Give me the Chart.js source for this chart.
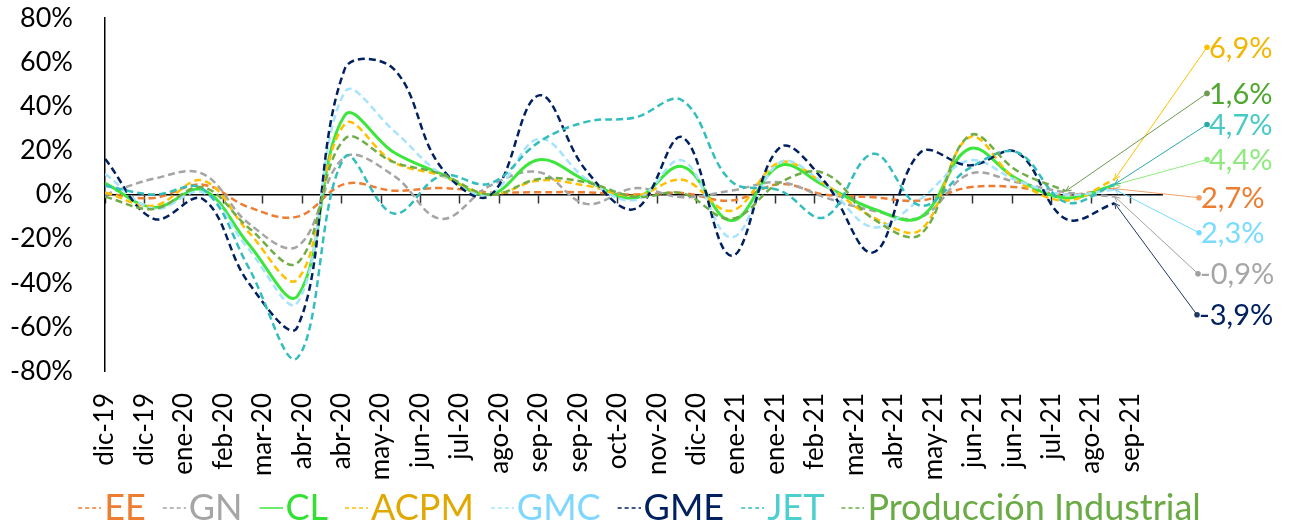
<!DOCTYPE html>
<html><head><meta charset="utf-8">
<script src="https://cdn.jsdelivr.net/npm/chart.js@4.4.1/dist/chart.umd.min.js"></script>
<style>html,body{margin:0;padding:0;background:#fff;}</style>
</head><body>
<canvas id="c" width="1292" height="527"></canvas>
<script>
// ---- data ----
const months = ['2019-12','2020-01','2020-02','2020-03','2020-04','2020-05','2020-06','2020-07','2020-08','2020-09','2020-10','2020-11','2020-12','2021-01','2021-02','2021-03','2021-04','2021-05','2021-06','2021-07','2021-08','2021-09'];
const axisEndMonth = '2021-10';
const tickLabels = ['dic-19','dic-19','ene-20','feb-20','mar-20','abr-20','abr-20','may-20','jun-20','jul-20','ago-20','sep-20','sep-20','oct-20','nov-20','dic-20','ene-21','ene-21','feb-21','mar-21','abr-21','may-21','jun-21','jun-21','jul-21','ago-21','sep-21'];
const tickStepDays = 25;
const seriesNames = ['EE','GN','CL','ACPM','GMC','GME','JET','Producción Industrial'];
const EE   = [0.5,-1.5,4.5,-5.7,-10,4.8,1.8,3,1,1.1,1,0,0.7,-2.7,4.8,0,-1.2,-2.7,3.3,3.3,0,2.7];
const GN   = [0,7.2,9.4,-13,-23.5,17,8.6,-11,4,10.2,-4.2,2.9,-1.2,1.8,5.6,-1.2,-7.3,-10.3,9.4,5.6,1,-0.9];
const CL   = [5.2,-5.8,2.1,-22.4,-46,36,19.2,9.4,0,15.8,6.4,-1.5,12.7,-11.8,13.2,4.1,-6.5,-10.3,20.8,7.1,-1.5,4.4];
const ACPM = [1,-5,6.4,-17,-38.5,32,14.7,8.6,0,6.4,4.1,-0.5,6.7,-7.3,14.7,4.8,-10.3,-16,26,6.4,-2.7,6.9];
const GMC  = [9.4,-6.4,1,-24.7,-49,46.5,29,9.4,0.3,25.3,7.2,-2.5,15.5,-19.4,14.7,4.8,-14.8,-2,15.5,6.4,0,2.3];
const GME  = [16.2,-11,-2,-40,-60,57,57,12.4,-0.5,45,10.9,-6.5,26,-27.7,21.5,6,-26.2,19.2,13.2,19.2,-11,-3.9];
const JET  = [4,0,2.6,-33,-74,17,-8.6,8.6,5,23.8,33,35,42.7,6,1.8,-10.3,18.5,-5,12,19.2,-3.5,4.7];
const PI   = [-1,-6.5,3.3,-15,-31,25.3,14.7,9.4,0,7.1,5.6,-1,0.6,-11,5.6,9.7,-11,-18,26.8,10.9,1.6];
const endLabels = ['2,7%','-0,9%','4,4%','6,9%','2,3%','-3,9%','4,7%','1,6%'];

// ---- styles ----
const lineColors   = ['#ED7D31','#A5A5A5','#3CE63C','#FFC000','#A6E3FF','#002060','#33BDBD','#70AD47'];
const legendColors = ['#ED7D31','#A5A5A5','#33E033','#E0A800','#7FD6FF','#002060','#4DCFCF','#6AAB45'];
const dashed       = [true,true,false,true,true,true,true,true];
const labelStyle = [ // label anchor y (axis units), dot offset from plot right, text colour, leader colour
  {y:-1.4, dx:37, text:'#ED7D31', line:'#F4A26A'},
  {y:-35.9, dx:36, text:'#A6A6A6', line:'#A0A0A0'},
  {y:15.9, dx:45, text:'#8EEA7C', line:'#8CEB7C'},
  {y:66.8, dx:45, text:'#F2B705', line:'#FFC000'},
  {y:-17.3, dx:37, text:'#79DBFF', line:'#79DBFF'},
  {y:-54.5, dx:35, text:'#002060', line:'#203864'},
  {y:31.8, dx:45, text:'#47C9C6', line:'#2AA8A8'},
  {y:45.9, dx:45, text:'#4EA72E', line:'#6E9A4E'}
];
const FONT = 'Lato, "Open Sans", sans-serif';
const LEGEND_SIZE = 36;

const dayOf = m => { const [y, mo] = m.split('-').map(Number); return (Date.UTC(y, mo - 1, 1) - Date.UTC(2019, 11, 1)) / 86400000; };
const axisMax = dayOf(axisEndMonth);
const allSeries = [EE, GN, CL, ACPM, GMC, GME, JET, PI];

// legend key: dashed line image, placed so that it ends just before the text
const BOXW = 25;
function legendSymbol(color, isDashed) {
  const c = document.createElement('canvas');
  const textStart = BOXW + LEGEND_SIZE / 2;
  const lineEnd = textStart - 3, lineStart = lineEnd - 23;
  const half = lineEnd - BOXW / 2;
  c.width = Math.round(half * 2); c.height = 4;
  const g = c.getContext('2d');
  const off = BOXW / 2 - half;
  g.strokeStyle = color; g.lineWidth = 1.5;
  g.setLineDash(isDashed ? [4, 3] : []);
  g.beginPath(); g.moveTo(lineStart - off, 2); g.lineTo(lineEnd - off, 2); g.stroke();
  return c;
}
const symbols = lineColors.map((c, i) => legendSymbol(c, dashed[i]));

const datasets = allSeries.map((vals, i) => ({
  label: seriesNames[i],
  data: vals.map((v, k) => ({x: dayOf(months[k]), y: v})),
  borderColor: lineColors[i],
  backgroundColor: lineColors[i],
  borderWidth: dashed[i] ? 2.5 : 3,
  borderDash: dashed[i] ? [7, 4] : [],
  pointRadius: 0,
  tension: 0.38,
  fill: false,
  order: allSeries.length - i,
  xAxisID: 'x', yAxisID: 'y'
}));

const setTicks = s => { s.ticks = tickLabels.map((_, i) => ({value: i * tickStepDays})); };

const endLabelPlugin = {
  id: 'endLabels',
  afterDatasetsDraw(chart) {
    const ctx = chart.ctx, area = chart.chartArea, ys = chart.scales.y;
    ctx.save();
    allSeries.forEach((vals, i) => {
      const meta = chart.getDatasetMeta(i);
      const pt = meta.data[meta.data.length - 1];
      const st = labelStyle[i];
      const lx = area.right + st.dx, ly = ys.getPixelForValue(st.y);
      ctx.strokeStyle = st.line; ctx.fillStyle = st.line; ctx.lineWidth = 1; ctx.setLineDash([]);
      ctx.beginPath(); ctx.moveTo(lx, ly); ctx.lineTo(pt.x, pt.y); ctx.stroke();
      const ang = Math.atan2(ly - pt.y, lx - pt.x);
      ctx.beginPath();
      ctx.moveTo(pt.x + 6 * Math.cos(ang - 0.45), pt.y + 6 * Math.sin(ang - 0.45));
      ctx.lineTo(pt.x, pt.y);
      ctx.lineTo(pt.x + 6 * Math.cos(ang + 0.45), pt.y + 6 * Math.sin(ang + 0.45));
      ctx.stroke();
      ctx.beginPath(); ctx.arc(lx, ly, 2.8, 0, Math.PI * 2); ctx.fill();
      ctx.fillStyle = st.text;
      ctx.font = '29px ' + FONT;
      ctx.textAlign = 'left'; ctx.textBaseline = 'middle';
      ctx.fillText(endLabels[i], lx + 2, ly + 1);
    });
    ctx.restore();
  }
};

new Chart(document.getElementById('c'), {
  type: 'line',
  data: {datasets},
  options: {
    responsive: false, animation: false, devicePixelRatio: 1,
    layout: {padding: {left: 0, top: 0, right: 30, bottom: -9}},
    scales: {
      x: {
        type: 'linear', position: 'bottom', min: 0, max: axisMax,
        border: {display: false}, grid: {display: false, drawTicks: false},
        afterBuildTicks: setTicks,
        ticks: {autoSkip: false, minRotation: 90, maxRotation: 90, padding: 22, color: '#000',
          font: {family: FONT, size: 26}, callback: (v, i) => tickLabels[i]},
        afterFit: s => { s.height = 119; }
      },
      xZero: {
        type: 'linear', axis: 'x', position: {y: 0}, min: 0, max: axisMax,
        afterBuildTicks: setTicks,
        border: {display: true, color: '#000', width: 1.5},
        grid: {drawOnChartArea: false, drawTicks: true, tickLength: 8, tickColor: '#333', tickWidth: 1.5},
        ticks: {display: false}
      },
      y: {
        min: -80, max: 80, position: 'left',
        border: {display: true, color: '#000', width: 1.5},
        grid: {display: true, drawOnChartArea: false, drawTicks: true, tickLength: 30, tickColor: 'rgba(0,0,0,0)'},
        ticks: {stepSize: 20, padding: 2, color: '#000', font: {family: FONT, size: 27}, callback: v => v + '%'},
        afterFit: s => { s.width = 105; }
      },
      yR: {
        min: -80, max: 80, position: 'right', display: true,
        border: {display: false}, grid: {display: false, drawTicks: false}, ticks: {display: false},
        afterFit: s => { s.width = 100; }
      }
    },
    plugins: {
      tooltip: {enabled: false},
      legend: {
        position: 'bottom',
        labels: {
          usePointStyle: true, pointStyleWidth: BOXW, padding: 0,
          font: {family: FONT, size: LEGEND_SIZE},
          sort: (a, b) => a.datasetIndex - b.datasetIndex,
          generateLabels: chart => Chart.defaults.plugins.legend.labels.generateLabels(chart).map(it => ({
            ...it, pointStyle: symbols[it.datasetIndex], fontColor: legendColors[it.datasetIndex]
          }))
        }
      }
    }
  },
  plugins: [endLabelPlugin]
});
</script>
</body></html>
